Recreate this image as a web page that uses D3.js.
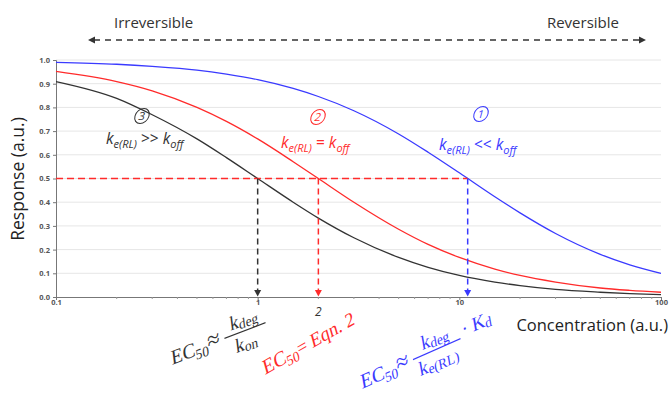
<!DOCTYPE html>
<html>
<head>
<meta charset="utf-8">
<script src="https://cdn.jsdelivr.net/npm/d3@7"></script>
<style>
  body { margin: 0; background: #fff; }
  text { font-family: "Open Sans", "Noto Sans", sans-serif; }
  .math { font-family: "Liberation Serif", "DejaVu Serif", serif; }
</style>
</head>
<body>
<svg width="671" height="394"></svg>
<script>
// values
var conc = [0.1, 0.2, 0.3, 0.5, 0.7, 1, 1.5, 2, 3, 5, 7, 10, 15, 20, 30, 50, 70, 100];
var blueResp  = [0.99, 0.982, 0.973, 0.957, 0.94, 0.917, 0.88, 0.846, 0.786, 0.688, 0.611, 0.524, 0.423, 0.355, 0.268, 0.18, 0.136, 0.1];
var redResp   = [0.952, 0.909, 0.87, 0.8, 0.741, 0.667, 0.571, 0.5, 0.4, 0.286, 0.222, 0.167, 0.118, 0.091, 0.063, 0.038, 0.028, 0.02];
var blackResp = [0.909, 0.838, 0.769, 0.667, 0.588, 0.5, 0.4, 0.333, 0.25, 0.167, 0.125, 0.091, 0.063, 0.048, 0.032, 0.02, 0.014, 0.01];
var ec50 = [1, 2, 11];          // black, red, blue
var yTicks = [0, 0.1, 0.2, 0.3, 0.4, 0.5, 0.6, 0.7, 0.8, 0.9, 1.0];
var xTicks = [0.1, 1, 10, 100];

var svg = d3.select("svg");
var x = d3.scaleLog().domain([0.1, 100]).range([56, 661]);
var y = d3.scaleLinear().domain([0, 1]).range([297, 60]);

var blue = "#3a3aff", red = "#ff2b2b", black = "#333";

// gridlines
svg.append("g").selectAll("line").data(yTicks.slice(1)).join("line")
  .attr("x1", x(0.1)).attr("x2", x(100))
  .attr("y1", d => y(d)).attr("y2", d => y(d))
  .attr("stroke", "#e6e6e6").attr("stroke-width", 1);

// y axis
var yAxis = svg.append("g").attr("transform", "translate(" + x(0.1) + ",0)")
  .call(d3.axisLeft(y).tickValues(yTicks).tickFormat(d3.format(".1f")).tickSize(3));
yAxis.select(".domain").attr("stroke", "#777");
yAxis.selectAll(".tick line").attr("stroke", "#777");
yAxis.selectAll("text").attr("font-size", 7.5).attr("font-weight", "bold").attr("fill", "#555")
  .attr("font-family", "Arial, 'Liberation Sans', sans-serif");

// x axis
var minor = [];
[0.1, 1, 10].forEach(function(dec){ for (var k = 2; k <= 9; k++) minor.push(dec * k); });
var xAxis = svg.append("g").attr("transform", "translate(0," + y(0) + ")")
  .call(d3.axisBottom(x).tickValues(xTicks).tickFormat(d => String(d)).tickSize(3));
xAxis.select(".domain").attr("stroke", "#777");
xAxis.selectAll(".tick line").attr("stroke", "#777");
xAxis.selectAll("text").attr("font-size", 7.5).attr("font-weight", "bold").attr("fill", "#555")
  .attr("font-family", "Arial, 'Liberation Sans', sans-serif").attr("dy", "0.3em");
svg.append("g").selectAll("line").data(minor).join("line")
  .attr("x1", d => x(d)).attr("x2", d => x(d))
  .attr("y1", y(0)).attr("y2", y(0) + 2)
  .attr("stroke", "#999");

svg.append("text").attr("x", x(2)).attr("y", 316).attr("text-anchor", "middle")
  .attr("font-size", 12).attr("font-style", "italic").attr("fill", "#333").text("2");

// axis titles
svg.append("text").attr("transform", "translate(24,179) rotate(-90)")
  .attr("text-anchor", "middle").attr("font-size", 17.5).attr("fill", "#222").text("Response (a.u.)");
svg.append("text").attr("x", 668).attr("y", 331).attr("text-anchor", "end")
  .attr("font-size", 16.5).attr("fill", "#222").text("Concentration (a.u.)");

// curves
var line = d3.line().x(d => x(d[0])).y(d => y(d[1])).curve(d3.curveMonotoneX);
[[blueResp, blue], [redResp, red], [blackResp, black]].forEach(function(s){
  svg.append("path").datum(conc.map((c, i) => [c, s[0][i]]))
    .attr("d", line).attr("fill", "none").attr("stroke", s[1]).attr("stroke-width", 1.3);
});

// EC50 drop lines
svg.append("line").attr("x1", x(0.1)).attr("x2", x(ec50[2]))
  .attr("y1", y(0.5)).attr("y2", y(0.5))
  .attr("stroke", red).attr("stroke-width", 1.6).attr("stroke-dasharray", "7,4");
[[ec50[0], black], [ec50[1], red], [ec50[2], blue]].forEach(function(e){
  var xx = x(e[0]);
  svg.append("line").attr("x1", xx).attr("x2", xx)
    .attr("y1", y(0.5)).attr("y2", y(0) - 5)
    .attr("stroke", e[1]).attr("stroke-width", 1.5).attr("stroke-dasharray", "6,4");
  svg.append("path")
    .attr("d", "M" + (xx - 3.5) + "," + (y(0) - 7) + "L" + (xx + 3.5) + "," + (y(0) - 7) + "L" + xx + "," + (y(0) - 0.5) + "Z")
    .attr("fill", e[1]);
});

// top arrow
svg.append("line").attr("x1", 94).attr("x2", 640).attr("y1", 40).attr("y2", 40)
  .attr("stroke", "#333").attr("stroke-width", 1.6).attr("stroke-dasharray", "6,5");
svg.append("path").attr("d", "M88,40L95,36.5L95,43.5Z").attr("fill", "#333");
svg.append("path").attr("d", "M646,40L639,36.5L639,43.5Z").attr("fill", "#333");
svg.append("text").attr("x", 114).attr("y", 28).attr("font-size", 15).attr("fill", "#333").text("Irreversible");
svg.append("text").attr("x", 619).attr("y", 28).attr("text-anchor", "end").attr("font-size", 15).attr("fill", "#333").text("Reversible");

// regime labels
function circled(cx, cy, num, col) {
  var g = svg.append("g").attr("transform", "translate(" + cx + "," + cy + ") skewX(-15)");
  g.append("ellipse").attr("rx", 7).attr("ry", 7.5).attr("fill", "none").attr("stroke", col).attr("stroke-width", 1);
  g.append("text").attr("y", 4).attr("text-anchor", "middle").attr("font-size", 11).attr("fill", col).text(num);
}
circled(142, 116, "3", black);
circled(318, 117, "2", red);
circled(481, 114, "1", blue);

function kLabel(x0, y0, op, col) {
  var t = svg.append("text").attr("x", x0).attr("y", y0).attr("font-size", 15.5)
    .attr("font-style", "italic").attr("fill", col);
  t.append("tspan").text("k");
  t.append("tspan").attr("font-size", 11).attr("dy", 4).text("e(RL)");
  t.append("tspan").attr("dy", -4).attr("font-style", "normal").text(" " + op + " ");
  t.append("tspan").text("k");
  t.append("tspan").attr("font-size", 11).attr("dy", 4).text("off");
}
kLabel(106, 144, ">>", black);
kLabel(281, 148, "=", red);
kLabel(439, 150, "<<", blue);

// EC50 formulas (slanted by a skew, the serif italic face is not available)
function ec(g, x0, col) {
  var t = g.append("text").attr("class", "math").attr("x", x0).attr("y", 0).attr("font-size", 20).attr("fill", col);
  t.append("tspan").text("EC");
  t.append("tspan").attr("font-size", 14).attr("dy", 4).text("50");
}
function approx(g, x0, col) {
  g.append("text").attr("class", "math").attr("x", x0).attr("y", -1).attr("font-size", 24)
    .attr("fill", col).text("≈");
}
function frac(g, x0, w, num, numSub, den, denSub, col) {
  g.append("line").attr("x1", x0).attr("x2", x0 + w).attr("y1", -6).attr("y2", -6)
    .attr("stroke", col).attr("stroke-width", 1.2);
  var n = g.append("text").attr("class", "math").attr("x", x0 + w / 2).attr("y", -11)
    .attr("text-anchor", "middle").attr("font-size", 19).attr("fill", col);
  n.append("tspan").text(num);
  n.append("tspan").attr("font-size", 14).attr("dy", 2).text(numSub);
  var d = g.append("text").attr("class", "math").attr("x", x0 + w / 2).attr("y", 12)
    .attr("text-anchor", "middle").attr("font-size", 19).attr("fill", col);
  d.append("tspan").text(den);
  d.append("tspan").attr("font-size", 14).attr("dy", 2).text(denSub);
}

var gb = svg.append("g").attr("transform", "translate(172,365) rotate(-21) skewX(-14)");
ec(gb, 0, "#333");
approx(gb, 39, "#333");
frac(gb, 57, 44, "k", "deg", "k", "on", "#333");

var gr = svg.append("g").attr("transform", "translate(265,375) rotate(-29.5) skewX(-14)");
ec(gr, 0, red);
gr.append("text").attr("class", "math").attr("x", 39).attr("y", 0).attr("font-size", 19).attr("fill", red)
  .text("= Eqn. 2");

var gl = svg.append("g").attr("transform", "translate(362,389) rotate(-24) skewX(-14)");
ec(gl, 0, blue);
approx(gl, 39, blue);
frac(gl, 57, 52, "k", "deg", "k", "e(RL)", blue);
gl.append("text").attr("class", "math").attr("x", 112).attr("y", -7).attr("font-size", 19).attr("fill", blue)
  .text("· K").append("tspan").attr("font-size", 14).attr("dy", 2).text("d");
</script>
</body>
</html>
